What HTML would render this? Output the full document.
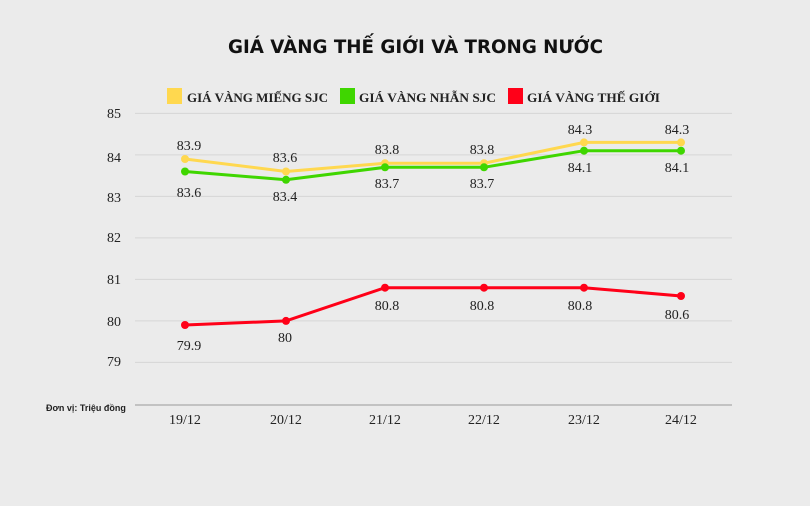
<!DOCTYPE html>
<html><head><meta charset="utf-8"><style>
html,body{margin:0;padding:0;background:#ebebeb;}
svg{display:block}
</style></head><body>
<svg width="810" height="506" viewBox="0 0 810 506" xmlns="http://www.w3.org/2000/svg">
<rect width="810" height="506" fill="#ebebeb"/>
<text x="228" y="53" font-family="'DejaVu Sans','Liberation Sans',sans-serif" font-size="19" font-weight="bold" fill="#111" textLength="375" lengthAdjust="spacingAndGlyphs">GIÁ VÀNG THẾ GIỚI VÀ TRONG NƯỚC</text>
<g font-family="'Liberation Serif',serif" font-weight="bold" font-size="13" fill="#222">
<rect x="167" y="88" width="15" height="16" fill="#ffd84f"/>
<text x="187" y="102" textLength="141" lengthAdjust="spacingAndGlyphs">GIÁ VÀNG MIẾNG SJC</text>
<rect x="340" y="88" width="15" height="16" fill="#3fd600"/>
<text x="359" y="102" textLength="137" lengthAdjust="spacingAndGlyphs">GIÁ VÀNG NHẪN SJC</text>
<rect x="508" y="88" width="15" height="16" fill="#ff0018"/>
<text x="527" y="102" textLength="133" lengthAdjust="spacingAndGlyphs">GIÁ VÀNG THẾ GIỚI</text>
</g>
<g stroke="#d6d6d6" stroke-width="1">
<line x1="135" x2="732" y1="113.4" y2="113.4"/>
<line x1="135" x2="732" y1="154.9" y2="154.9"/>
<line x1="135" x2="732" y1="196.4" y2="196.4"/>
<line x1="135" x2="732" y1="237.9" y2="237.9"/>
<line x1="135" x2="732" y1="279.4" y2="279.4"/>
<line x1="135" x2="732" y1="320.9" y2="320.9"/>
<line x1="135" x2="732" y1="362.4" y2="362.4"/>
</g>
<line x1="135" x2="732" y1="405" y2="405" stroke="#9a9a9a" stroke-width="1"/>
<g font-family="'Liberation Serif',serif" font-size="14" fill="#222" text-anchor="end">
<text x="121" y="118">85</text><text x="121" y="162">84</text><text x="121" y="202">83</text>
<text x="121" y="242">82</text><text x="121" y="284">81</text><text x="121" y="326">80</text><text x="121" y="366">79</text>
</g>
<text x="46" y="411" font-family="'Liberation Sans',sans-serif" font-size="9" font-weight="bold" fill="#222">Đơn vị: Triệu đồng</text>
<g font-family="'Liberation Serif',serif" font-size="14" fill="#222" text-anchor="middle">
<text x="185" y="424">19/12</text><text x="286" y="424">20/12</text><text x="385" y="424">21/12</text>
<text x="484" y="424">22/12</text><text x="584" y="424">23/12</text><text x="681" y="424">24/12</text>
</g>
<polyline fill="none" stroke="#ffd84f" stroke-width="3" points="185,159 286,171.5 385,163.2 484,163.2 584,142.4 681,142.4"/>
<g fill="#ffd84f"><circle cx="185" cy="159" r="4"/><circle cx="286" cy="171.5" r="4"/><circle cx="385" cy="163.2" r="4"/><circle cx="484" cy="163.2" r="4"/><circle cx="584" cy="142.4" r="4"/><circle cx="681" cy="142.4" r="4"/></g>
<polyline fill="none" stroke="#3fd600" stroke-width="3" points="185,171.5 286,179.8 385,167.3 484,167.3 584,150.7 681,150.7"/>
<g fill="#3fd600"><circle cx="185" cy="171.5" r="4"/><circle cx="286" cy="179.8" r="4"/><circle cx="385" cy="167.3" r="4"/><circle cx="484" cy="167.3" r="4"/><circle cx="584" cy="150.7" r="4"/><circle cx="681" cy="150.7" r="4"/></g>
<polyline fill="none" stroke="#ff0018" stroke-width="3" points="185,325 286,320.9 385,287.7 484,287.7 584,287.7 681,296"/>
<g fill="#ff0018"><circle cx="185" cy="325" r="4"/><circle cx="286" cy="320.9" r="4"/><circle cx="385" cy="287.7" r="4"/><circle cx="484" cy="287.7" r="4"/><circle cx="584" cy="287.7" r="4"/><circle cx="681" cy="296" r="4"/></g>
<g font-family="'Liberation Serif',serif" font-size="14" fill="#222" text-anchor="middle">
<text x="189" y="150">83.9</text><text x="285" y="162">83.6</text><text x="387" y="154">83.8</text><text x="482" y="154">83.8</text><text x="580" y="134">84.3</text><text x="677" y="134">84.3</text>
<text x="189" y="197">83.6</text><text x="285" y="201">83.4</text><text x="387" y="188">83.7</text><text x="482" y="188">83.7</text><text x="580" y="172">84.1</text><text x="677" y="172">84.1</text>
<text x="189" y="350">79.9</text><text x="285" y="342">80</text><text x="387" y="310">80.8</text><text x="482" y="310">80.8</text><text x="580" y="310">80.8</text><text x="677" y="319">80.6</text>
</g>
</svg>
</body></html>
